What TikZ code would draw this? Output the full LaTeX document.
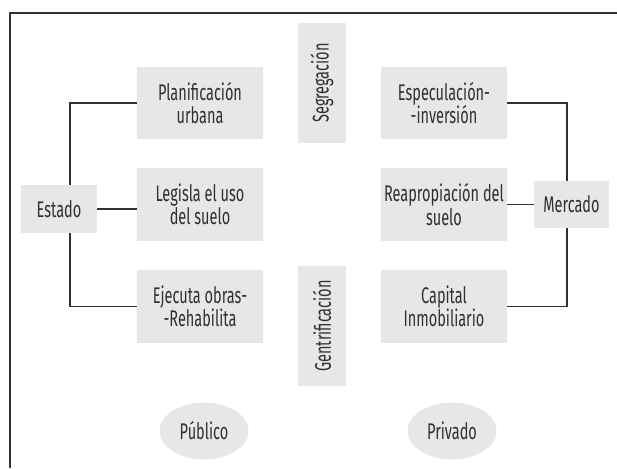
\documentclass[tikz,border=0pt]{standalone}
\usepackage{fontspec}
\setmainfont{Fira Sans}[FakeStretch=0.64]
\usetikzlibrary{shapes.geometric}
\definecolor{boxgray}{HTML}{E6E7E7}
\definecolor{inkgray}{HTML}{303030}
\tikzset{
  caja/.style={fill=boxgray, text=inkgray, align=center, inner sep=0pt,
    font=\fontsize{17pt}{17.5pt}\selectfont},
  vert/.style={caja, minimum width=120*0.75pt, minimum height=48*0.75pt, rotate=90},
  sector/.style={ellipse, fill=boxgray, text=inkgray, inner sep=0pt,
    minimum width=89*0.75pt, minimum height=57*0.75pt,
    font=\fontsize{17pt}{17.5pt}\selectfont},
  enlace/.style={draw=inkgray, line width=1pt},
}
\begin{document}
\begin{tikzpicture}[x=0.75pt, y=-0.75pt]
\useasboundingbox (0,0) rectangle (617,468);
% marco
\draw[line width=0.9pt, draw=black!80] (617,13) -- (10,13) -- (10,468);
% actores
\node[caja, minimum width=76*0.75pt, minimum height=48*0.75pt] (estado) at (59,209) {Estado};
\node[caja, minimum width=75*0.75pt, minimum height=47*0.75pt] (mercado) at (571.5,204.5) {Mercado};
% acciones del estado
\node[caja, minimum width=126*0.75pt, minimum height=72*0.75pt] (plan) at (200,103) {Planificación\\urbana};
\node[caja, minimum width=126*0.75pt, minimum height=73*0.75pt] (legisla) at (200,204.5) {Legisla el uso\\del suelo};
\node[caja, minimum width=126*0.75pt, minimum height=73*0.75pt] (ejecuta) at (200,306.5) {Ejecuta obras-\\-Rehabilita};
% acciones del mercado
\node[caja, minimum width=126*0.75pt, minimum height=72*0.75pt] (espec) at (444,103) {Especulación-\\-inversión};
\node[caja, minimum width=126*0.75pt, minimum height=73*0.75pt] (reaprop) at (444,204.5) {Reapropiación del\\suelo};
\node[caja, minimum width=126*0.75pt, minimum height=73*0.75pt] (capital) at (444,306.5) {Capital\\Inmobiliario};
% procesos
\node[vert] (segreg) at (322,83) {Segregación};
\node[vert] (gentri) at (322,326) {Gentrificación};
% sectores
\node[sector] (publico) at (204,431) {Público};
\node[sector] (privado) at (452,431) {Privado};
% conexiones
\draw[enlace] (plan.west) -| ([xshift=8.25pt]estado.north);
\draw[enlace] (ejecuta.west) -| ([xshift=8.25pt]estado.south);
\draw[enlace] (estado.east) -- (estado.east -| legisla.west);
\draw[enlace] (espec.east) -| ([xshift=-3.4pt]mercado.north);
\draw[enlace] (capital.east) -| ([xshift=-3.4pt]mercado.south);
\draw[enlace] (reaprop.east) -- (reaprop.east -| mercado.west);
\end{tikzpicture}
\end{document}
